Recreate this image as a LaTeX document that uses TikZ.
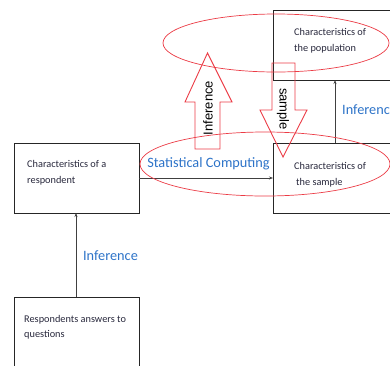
\documentclass[tikz,border=0pt]{standalone}
\usepackage{fontspec}
\setmainfont{Carlito}
\newfontfamily\arialfont{Liberation Sans}
\usetikzlibrary{shapes.geometric,arrows.meta}
\definecolor{lblue}{RGB}{45,115,200}
\definecolor{ared}{RGB}{235,60,70}
\definecolor{txt}{RGB}{40,40,60}
\begin{document}
\begin{tikzpicture}[x=1pt,y=-1pt,
  box/.style={draw=black!85,line width=0.8pt,rectangle,anchor=north west,inner sep=0},
  boxtext/.style={anchor=north west,align=left,font=\fontsize{10.3}{16}\selectfont,text=txt,inner sep=0},
  lab/.style={text=lblue,font=\fontsize{14.3}{16}\selectfont,inner sep=0},
  conn/.style={draw=black!75,line width=0.7pt,-{Stealth[length=4pt,width=3pt]}},
  redell/.style={draw=ared,line width=0.7pt,ellipse,inner sep=0},
  redarrow/.style={draw=ared,line width=0.9pt},
  arrtext/.style={font=\arialfont\fontsize{13}{13}\selectfont,inner sep=0}]
\path[use as bounding box] (0,0) rectangle (390,365);
\clip (0,0) rectangle (390,365);
% boxes
\node[box,minimum width=135pt,minimum height=70pt] (pop) at (273,10) {};
\node[box,minimum width=135pt,minimum height=70pt] (samp) at (273,143) {};
\node[box,minimum width=125pt,minimum height=70pt] (resp) at (14,143) {};
\node[box,minimum width=125pt,minimum height=90pt] (ans) at (14,297) {};
% box texts
\node[boxtext] (poptxt) at (294,28) {Characteristics of\\the population};
\node[boxtext] (samptxt) at (294,162) {Characteristics of\\\hspace{2pt}the sample};
\node[boxtext] (resptxt) at (27,160) {Characteristics of a\\respondent};
\node[boxtext,font=\fontsize{10.3}{15}\selectfont] (anstxt) at (24,315) {Respondents answers to\\questions};
% connectors
\coordinate (c1) at (76,297);
\coordinate (c2) at (76,213);
\draw[conn] (c1) -- (c2);
\coordinate (c3) at (139,178);
\coordinate (c4) at (273,178);
\draw[conn] (c3) -- (c4);
\coordinate (c5) at (335,143);
\coordinate (c6) at (335,80);
\draw[conn] (c5) -- (c6);
% labels
\node[lab] (l1) at (110.5,256) {Inference};
\node[lab] (l2) at (208.5,164) {Statistical Computing};
\node[lab,anchor=west] (l3) at (342,110) {Inference};
% red ellipses
\node[redell,minimum width=226pt,minimum height=58pt] (e1) at (276,43) {};
\node[redell,minimum width=250pt,minimum height=64pt] (e2) at (265,164) {};
% red block arrows
\draw[redarrow] (207.5,53) -- (232,102) -- (220,102) -- (220,149) -- (195,149) -- (195,102) -- (185,102) -- cycle;
\node[arrtext,rotate=90] (a1) at (208,108) {Inference};
\draw[redarrow] (272,63) -- (295,63) -- (295,110) -- (307,110) -- (283,157) -- (260,110) -- (272,110) -- cycle;
\node[arrtext,rotate=-90] (a2) at (283,109) {sample};
\end{tikzpicture}
\end{document}
